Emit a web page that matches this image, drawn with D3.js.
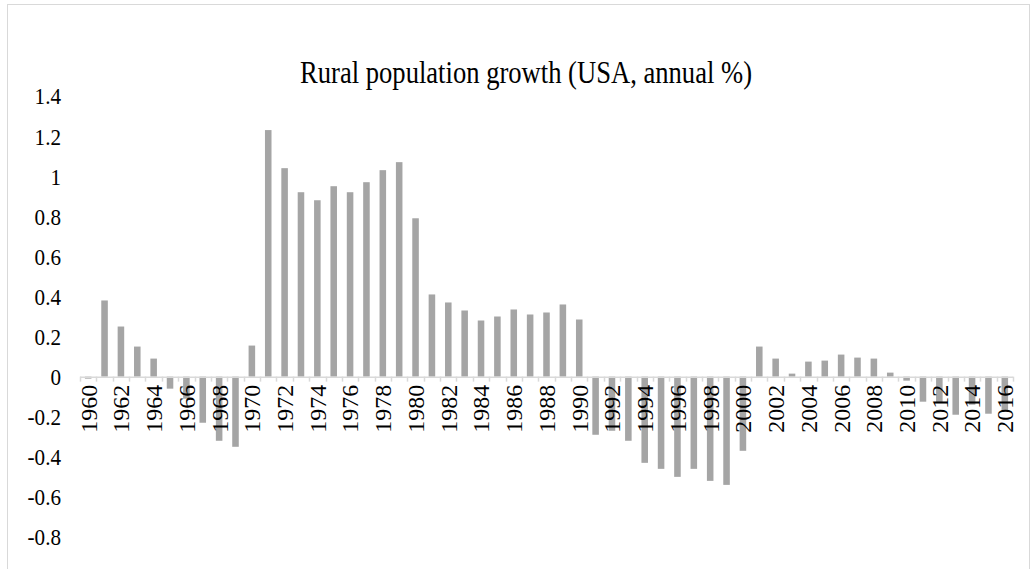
<!DOCTYPE html>
<html>
<head>
<meta charset="utf-8">
<title>Rural population growth</title>
<script src="https://cdn.jsdelivr.net/npm/d3@7"></script>
<style>
   body { margin: 0; background: #fff; }
   svg text { font-family: "Liberation Serif", "Times New Roman", serif; fill: #000; }
</style>
</head>
<body>
<div id="chart"></div>
<script>
/*global d3*/
var years = d3.range(1960, 2017);

var growth = [
   -0.01, 0.38, 0.25, 0.15, 0.09, -0.06, -0.11, -0.23, -0.32, -0.35,
   0.155, 1.23, 1.04, 0.92, 0.88, 0.95, 0.92, 0.97, 1.03, 1.07,
   0.79, 0.41, 0.37, 0.33, 0.28, 0.30, 0.335, 0.31, 0.32, 0.36,
   0.285, -0.29, -0.27, -0.32, -0.43, -0.46, -0.50, -0.46, -0.52, -0.54,
   -0.37, 0.15, 0.09, 0.015, 0.075, 0.08, 0.11, 0.095, 0.09, 0.02,
   -0.02, -0.125, -0.13, -0.19, -0.14, -0.185, -0.17
];

var yTicks = [1.4, 1.2, 1, 0.8, 0.6, 0.4, 0.2, 0, -0.2, -0.4, -0.6, -0.8];

var title = "Rural population growth (USA, annual %)";

(function () {
   "use strict";
   var width = 1034,
      height = 569,
      plot = {left: 80, right: 1013, top: 96, bottom: 537},
      svg,
      x,
      y,
      data;

   data = years.map(function (yr, i) {
      return {year: yr, value: growth[i]};
   });

   svg = d3.select("#chart").append("svg")
      .attr("width", width)
      .attr("height", height);

   //chart border
   svg.append("rect")
      .attr("x", 7.5)
      .attr("y", 4.5)
      .attr("width", 1022)
      .attr("height", 600)
      .attr("fill", "none")
      .attr("stroke", "#d9d9d9");

   x = d3.scaleBand()
      .domain(years)
      .range([plot.left, plot.right])
      .paddingInner(0.6)
      .paddingOuter(0.3);

   y = d3.scaleLinear()
      .domain([-0.8, 1.4])
      .range([plot.bottom, plot.top]);

   //title (font looks condensed in the original)
   svg.append("text")
      .attr("transform", "translate(526,83) scale(0.858,1)")
      .attr("text-anchor", "middle")
      .style("font-size", "31px")
      .text(title);

   //y labels, no axis line
   svg.append("g").selectAll("text")
      .data(yTicks)
      .enter().append("text")
      .attr("transform", function (d) {
         return "translate(61," + y(d) + ") scale(0.88,1)";
      })
      .attr("dy", "0.35em")
      .attr("text-anchor", "end")
      .style("font-size", "24px")
      .text(function (d) { return String(d); });

   //bars
   svg.append("g").selectAll("rect")
      .data(data)
      .enter().append("rect")
      .attr("x", function (d) { return x(d.year); })
      .attr("y", function (d) { return y(Math.max(0, d.value)); })
      .attr("width", x.bandwidth())
      .attr("height", function (d) { return Math.abs(y(d.value) - y(0)); })
      .attr("fill", "#a5a5a5");

   //category axis at zero, ticks between categories
   var step = x.step(),
      axisG = svg.append("g"),
      bounds = d3.range(years.length + 1).map(function (i) {
         return plot.left + i * step;
      });

   axisG.append("line")
      .attr("x1", plot.left)
      .attr("x2", plot.right)
      .attr("y1", y(0) + 0.5)
      .attr("y2", y(0) + 0.5)
      .attr("stroke", "#d9d9d9")
      .attr("stroke-width", 1.5);

   axisG.selectAll(".tick")
      .data(bounds)
      .enter().append("line")
      .attr("class", "tick")
      .attr("x1", function (d) { return Math.round(d) + 0.5; })
      .attr("x2", function (d) { return Math.round(d) + 0.5; })
      .attr("y1", y(0))
      .attr("y2", y(0) + 5)
      .attr("stroke", "#d9d9d9")
      .attr("stroke-width", 1.5);

   //every second year, rotated
   axisG.selectAll(".lbl")
      .data(years.filter(function (yr) { return (yr - 1960) % 2 === 0; }))
      .enter().append("text")
      .attr("class", "lbl")
      .attr("transform", function (d) {
         return "translate(" + (x(d) + x.bandwidth() / 2) + "," + (y(0) + 8) + ") rotate(-90)";
      })
      .attr("dy", "0.35em")
      .attr("text-anchor", "end")
      .style("font-size", "24px")
      .text(function (d) { return d; });
}());
</script>
</body>
</html>
